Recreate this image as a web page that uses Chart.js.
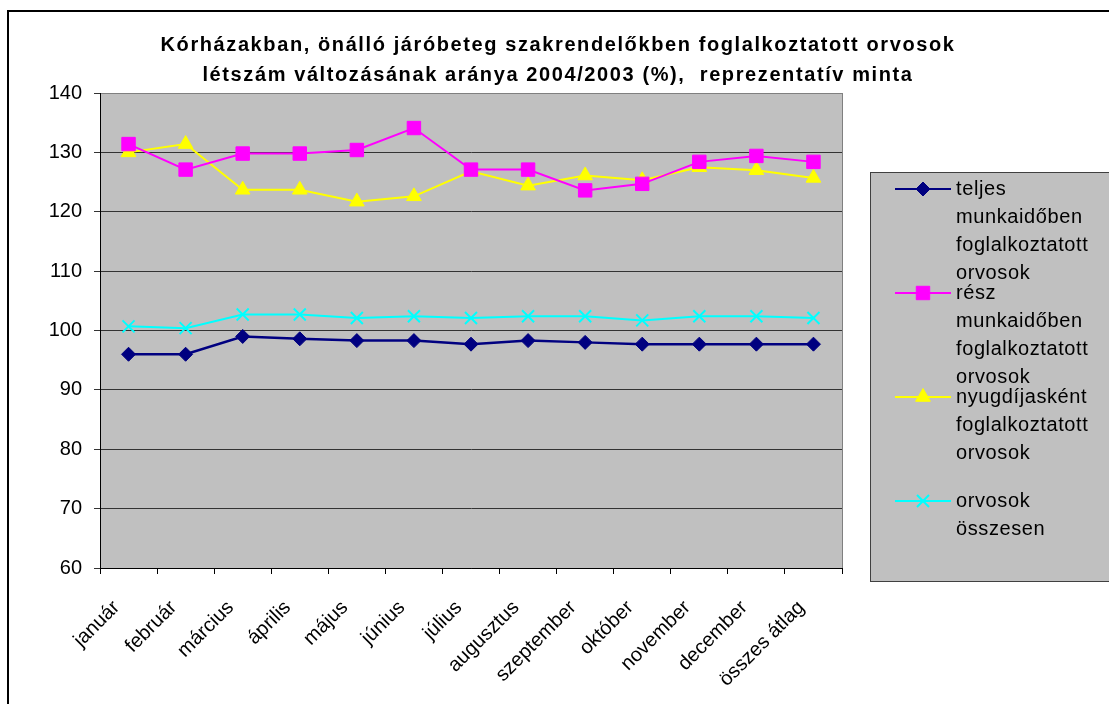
<!DOCTYPE html>
<html>
<head>
<meta charset="utf-8">
<title>Orvosok létszám változása</title>
<script src="https://cdn.jsdelivr.net/npm/chart.js@4/dist/chart.umd.min.js"></script>
<style>
    html, body { margin: 0; padding: 0; background: #fff; }
</style>
</head>
<body>
<canvas id="orvosChart" width="1109" height="704"></canvas>
<script>
const categories = ['január', 'február', 'március', 'április', 'május', 'június', 'július',
    'augusztus', 'szeptember', 'október', 'november', 'december', 'összes átlag'];
const teljes = [96.0, 96.0, 99.0, 98.6, 98.3, 98.3, 97.7, 98.3, 98.0, 97.7, 97.7, 97.7, 97.7];
const resz = [131.4, 127.1, 129.8, 129.8, 130.4, 134.1, 127.1, 127.1, 123.6, 124.7, 128.4, 129.4, 128.4];
const nyugdijas = [130.0, 131.4, 123.7, 123.7, 121.7, 122.6, 126.8, 124.4, 126.1, 125.3, 127.5, 127.0, 125.7];
const osszesen = [100.7, 100.4, 102.7, 102.7, 102.1, 102.4, 102.1, 102.4, 102.4, 101.7, 102.4, 102.4, 102.1];
const yMin = 60, yMax = 140, yStep = 10;
const seriesNames = [
    ['teljes', 'munkaidőben', 'foglalkoztatott', 'orvosok'],
    ['rész', 'munkaidőben', 'foglalkoztatott', 'orvosok'],
    ['nyugdíjasként', 'foglalkoztatott', 'orvosok'],
    ['orvosok', 'összesen']
];
const titleLines = [
    'Kórházakban, önálló járóbeteg szakrendelőkben foglalkoztatott orvosok',
    'létszám változásának aránya 2004/2003 (%),  reprezentatív minta'
];

const FONT = "'Liberation Sans', Arial, sans-serif";
Chart.defaults.font.family = FONT;
Chart.defaults.color = '#000';

// white page, outer frame, grey plot area
const background = {
    id: 'background',
    beforeDraw(chart) {
        const { ctx, chartArea: a } = chart;
        ctx.save();
        ctx.fillStyle = '#fff';
        ctx.fillRect(0, 0, chart.width, chart.height);
        ctx.strokeStyle = '#000';
        ctx.lineWidth = 2;
        ctx.strokeRect(8, 11, chart.width + 20, chart.height + 20);
        ctx.fillStyle = '#c0c0c0';
        ctx.fillRect(a.left, a.top, a.right - a.left, a.bottom - a.top);
        ctx.strokeStyle = '#808080';
        ctx.lineWidth = 1;
        ctx.strokeRect(a.left + 0.5, a.top + 0.5, a.right - a.left, a.bottom - a.top);
        ctx.restore();
    }
};

// title centred over the whole picture, spaced out like the original
const wideTitle = {
    id: 'wideTitle',
    afterDraw(chart) {
        const ctx = chart.ctx;
        ctx.save();
        ctx.fillStyle = '#000';
        ctx.font = 'bold 20px ' + FONT;
        ctx.letterSpacing = '1.6px';
        ctx.textAlign = 'center';
        ctx.textBaseline = 'middle';
        titleLines.forEach((line, i) => ctx.fillText(line, 558, 45 + 30 * i));
        ctx.restore();
    }
};

// legend box with wrapped labels, like the original
const sideLegend = {
    id: 'sideLegend',
    afterDraw(chart) {
        const ctx = chart.ctx;
        ctx.save();
        ctx.fillStyle = '#c0c0c0';
        ctx.fillRect(870, 172, 260, 409);
        ctx.strokeStyle = '#404040';
        ctx.lineWidth = 1;
        ctx.strokeRect(870.5, 172.5, 260, 409);
        chart.data.datasets.forEach((ds, i) => {
            const cy = 189 + 104 * i;
            ctx.strokeStyle = ds.borderColor;
            ctx.lineWidth = 2;
            ctx.beginPath();
            ctx.moveTo(895, cy);
            ctx.lineTo(951, cy);
            ctx.stroke();
            ctx.fillStyle = ds.pointBackgroundColor;
            ctx.strokeStyle = ds.pointBorderColor;
            ctx.lineWidth = ds.pointBorderWidth;
            Chart.helpers.drawPoint(ctx, {
                pointStyle: ds.pointStyle,
                radius: ds.pointRadius,
                borderWidth: ds.pointBorderWidth,
                rotation: 0
            }, 923, cy);
            ctx.fillStyle = '#000';
            ctx.font = '20px ' + FONT;
            ctx.letterSpacing = '0.6px';
            ctx.textBaseline = 'middle';
            ctx.textAlign = 'left';
            seriesNames[i].forEach((line, j) => {
                ctx.fillText(line, 956, cy + 28 * j);
            });
        });
        ctx.restore();
    }
};

const ctx = document.getElementById('orvosChart').getContext('2d');
new Chart(ctx, {
    type: 'line',
    data: {
        labels: categories,
        datasets: [{
            label: seriesNames[0].join(' '),
            data: teljes,
            borderColor: '#000080',
            borderWidth: 2.5,
            pointStyle: 'rectRot',
            pointRadius: 7,
            pointBackgroundColor: '#000080',
            pointBorderColor: '#000080',
            pointBorderWidth: 1
        }, {
            label: seriesNames[1].join(' '),
            data: resz,
            borderColor: '#ff00ff',
            borderWidth: 2,
            pointStyle: 'rect',
            pointRadius: 9.5,
            pointBackgroundColor: '#ff00ff',
            pointBorderColor: '#ff00ff',
            pointBorderWidth: 1
        }, {
            label: seriesNames[2].join(' '),
            data: nyugdijas,
            borderColor: '#ffff00',
            borderWidth: 2,
            pointStyle: 'triangle',
            pointRadius: 8.5,
            pointBackgroundColor: '#ffff00',
            pointBorderColor: '#ffff00',
            pointBorderWidth: 1
        }, {
            label: seriesNames[3].join(' '),
            data: osszesen,
            borderColor: '#00ffff',
            borderWidth: 2,
            pointStyle: 'crossRot',
            pointRadius: 8.5,
            pointBackgroundColor: '#00ffff',
            pointBorderColor: '#00ffff',
            pointBorderWidth: 2
        }]
    },
    options: {
        responsive: false,
        animation: false,
        tension: 0,
        layout: { padding: { left: 0, right: 267, top: 93, bottom: 0 } },
        plugins: {
            legend: { display: false },
            tooltip: { enabled: false },
            title: { display: false }
        },
        scales: {
            x: {
                offset: true,
                grid: {
                    offset: true,
                    drawOnChartArea: false,
                    drawTicks: true,
                    tickLength: 6,
                    color: '#000'
                },
                border: { color: '#000', width: 1 },
                ticks: {
                    autoSkip: false,
                    minRotation: 45,
                    maxRotation: 45,
                    padding: 22,
                    labelOffset: -12,
                    font: { size: 20 }
                },
                afterFit(scale) { scale.height = 136; }
            },
            y: {
                min: yMin,
                max: yMax,
                grid: {
                    color: c => c.tick && c.tick.value === yMax ? '#808080' : '#333',
                    tickColor: '#333',
                    tickLength: 6
                },
                border: { color: '#000', width: 1 },
                ticks: { stepSize: yStep, padding: 12, font: { size: 20 } },
                afterFit(scale) { scale.width = 100; }
            }
        }
    },
    plugins: [background, wideTitle, sideLegend]
});
</script>
</body>
</html>
